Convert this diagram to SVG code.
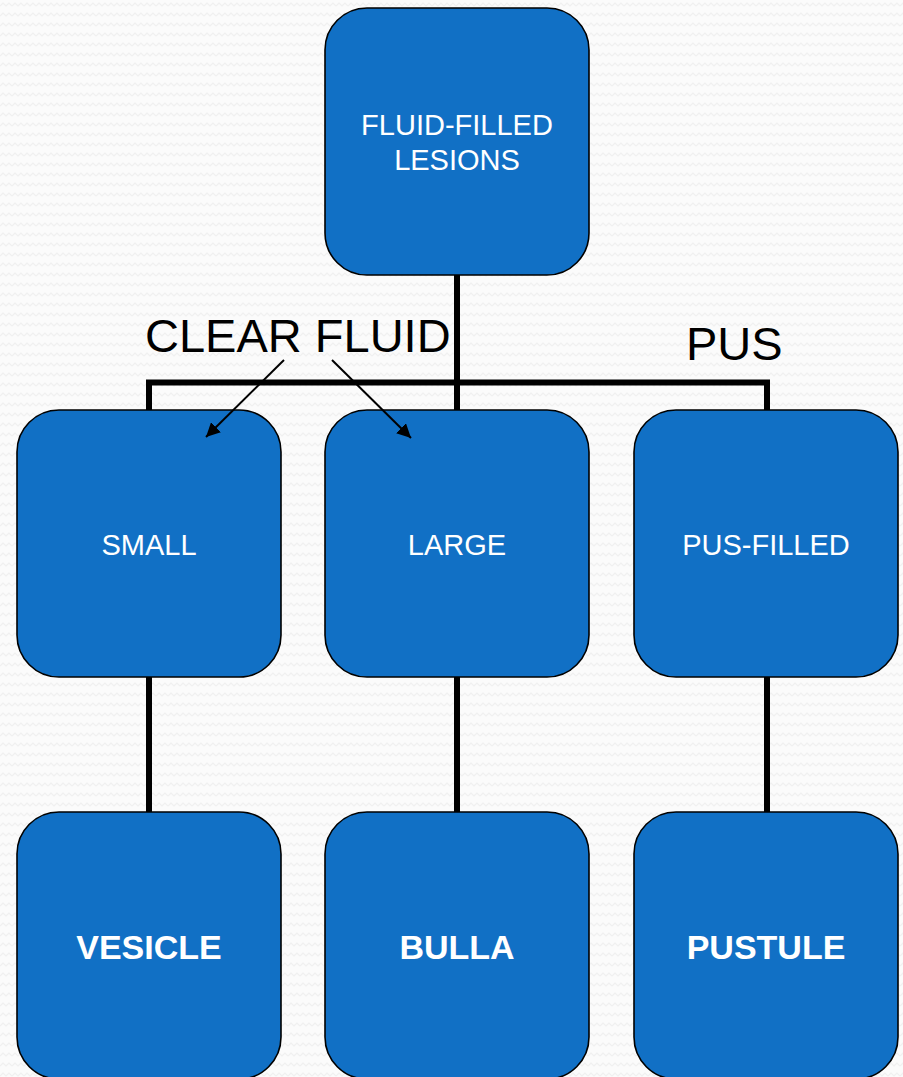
<svg xmlns="http://www.w3.org/2000/svg" width="903" height="1077" viewBox="0 0 903 1077">
  <defs>
    <pattern id="zigzag" width="12" height="10" patternUnits="userSpaceOnUse">
      <rect width="12" height="10" fill="#fbfbfb"/>
      <path d="M0 6 L3 3 L6 6 L9 3 L12 6" fill="none" stroke="#f0f0f0" stroke-width="1.2"/>
    </pattern>
    <marker id="arrow" viewBox="0 0 10 10" refX="10" refY="5" markerWidth="7" markerHeight="7" markerUnits="strokeWidth" orient="auto">
      <path d="M0 0 L10 5 L0 10 Z" fill="#000"/>
    </marker>
    <style>
      .box { fill: #1170c5; stroke: #000; stroke-width: 1.6; }
      .label { font-family: "Liberation Sans", Arial, sans-serif; fill: #fff; text-anchor: middle; font-size: 29px; }
      .bold { font-weight: bold; font-size: 34px; }
      .link { fill: none; stroke: #000; stroke-width: 6; }
      .pointer { fill: none; stroke: #000; stroke-width: 2; }
      .caption { font-family: "Liberation Sans", Arial, sans-serif; fill: #000; font-size: 47px; }
    </style>
  </defs>

  <rect width="903" height="1077" fill="url(#zigzag)"/>

  <!-- tree connectors -->
  <g id="connectors">
    <path class="link" d="M457 275 V410"/>
    <path class="link" d="M149 410 V382.5 H767 V410"/>
    <path class="link" d="M149 677 V812"/>
    <path class="link" d="M457 677 V812"/>
    <path class="link" d="M767 677 V812"/>
  </g>

  <g id="fluid-filled-lesions">
    <rect class="box" x="325" y="8" width="264" height="267" rx="42"/>
    <text class="label" x="457" y="135">FLUID-FILLED</text>
    <text class="label" x="457" y="170">LESIONS</text>
  </g>

  <g id="small">
    <rect class="box" x="17" y="410" width="264" height="267" rx="42"/>
    <text class="label" x="149" y="555">SMALL</text>
  </g>

  <g id="large">
    <rect class="box" x="325" y="410" width="264" height="267" rx="42"/>
    <text class="label" x="457" y="555">LARGE</text>
  </g>

  <g id="pus-filled">
    <rect class="box" x="634" y="410" width="264" height="267" rx="42"/>
    <text class="label" x="766" y="555">PUS-FILLED</text>
  </g>

  <g id="vesicle">
    <rect class="box" x="17" y="812" width="264" height="267" rx="42"/>
    <text class="label bold" x="149" y="959">VESICLE</text>
  </g>

  <g id="bulla">
    <rect class="box" x="325" y="812" width="264" height="267" rx="42"/>
    <text class="label bold" x="457" y="959">BULLA</text>
  </g>

  <g id="pustule">
    <rect class="box" x="634" y="812" width="264" height="267" rx="42"/>
    <text class="label bold" x="766" y="959">PUSTULE</text>
  </g>

  <!-- branch labels with pointers drawn over the boxes -->
  <g id="branch-labels">
    <line class="pointer" x1="284" y1="360" x2="206" y2="437" marker-end="url(#arrow)"/>
    <line class="pointer" x1="332" y1="360" x2="411" y2="438" marker-end="url(#arrow)"/>
    <text class="caption" x="145" y="352">CLEAR FLUID</text>
    <text class="caption" x="686" y="360">PUS</text>
  </g>
</svg>
